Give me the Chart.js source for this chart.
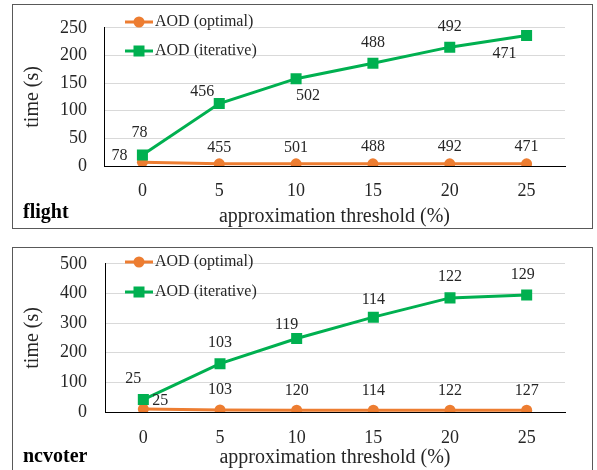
<!DOCTYPE html>
<html>
<head>
<meta charset="utf-8">
<script src="https://cdn.jsdelivr.net/npm/chart.js@4.4.1/dist/chart.umd.min.js"></script>
<style>
  html, body { margin: 0; padding: 0; background: #fff; overflow: hidden; }
  .panel { position: absolute; border: 1px solid #595959; box-sizing: border-box; }
  .wrap { position: absolute; left: 0; width: 597px; height: 235px; }
</style>
</head>
<body>
<div class="panel" style="left:12px;top:4px;width:581px;height:225px"></div>
<div class="panel" style="left:12px;top:247px;width:581px;height:240px"></div>
<div class="wrap" style="top:0"><canvas id="flightChart"></canvas></div>
<div class="wrap" style="top:235px"><canvas id="ncvoterChart"></canvas></div>

<script>
// ===== DATA =====
const thresholds = ["0", "5", "10", "15", "20", "25"];
const seriesNames = ["AOD (optimal)", "AOD (iterative)"];

const flightOptimal = [7, 4, 4, 4, 4, 4];
const flightIterative = [20, 113, 158, 186, 215, 236];
const flightOptimalNotes = ["78", "455", "501", "488", "492", "471"];
const flightIterativeNotes = ["78", "456", "502", "488", "492", "471"];
const flightTicks = [0, 50, 100, 150, 200, 250];

const ncvoterOptimal = [10, 7, 6, 6, 6, 6];
const ncvoterIterative = [42, 163, 248, 320, 385, 395];
const ncvoterOptimalNotes = ["25", "103", "120", "114", "122", "127"];
const ncvoterIterativeNotes = ["25", "103", "119", "114", "122", "129"];
const ncvoterTicks = [0, 100, 200, 300, 400, 500];

// ===== STYLE =====
const ORANGE = "#ed7d31";
const GREEN = "#00b050";
const SERIF = "'Liberation Serif', 'Times New Roman', serif";
const TEXT = "#262626";

/* draws the little number next to every point */
const notesPlugin = {
  id: "notes",
  afterDatasetsDraw(chart, args, opts) {
    const ctx = chart.ctx;
    ctx.save();
    ctx.font = "16px " + SERIF;
    ctx.fillStyle = TEXT;
    ctx.textAlign = "center";
    ctx.textBaseline = "middle";
    chart.data.datasets.forEach((ds, di) => {
      const meta = chart.getDatasetMeta(di);
      meta.data.forEach((pt, i) => {
        const off = opts.offsets[di][i];
        ctx.fillText(ds.notes[i], pt.x + off[0], pt.y + off[1]);
      });
    });
    ctx.restore();
  }
};

/* legend inside the plot + panel name */
const boxLegendPlugin = {
  id: "boxLegend",
  afterDraw(chart, args, opts) {
    const ctx = chart.ctx;
    ctx.save();
    chart.data.datasets.forEach((ds, di) => {
      const y = opts.rows[di];
      const x0 = opts.x;
      ctx.strokeStyle = ds.borderColor;
      ctx.lineWidth = 3;
      ctx.beginPath();
      ctx.moveTo(x0, y);
      ctx.lineTo(x0 + 28, y);
      ctx.stroke();
      ctx.fillStyle = ds.backgroundColor;
      if (ds.pointStyle === "rect") {
        ctx.fillRect(x0 + 14 - 5.5, y - 5.5, 11, 11);
      } else {
        ctx.beginPath();
        ctx.arc(x0 + 14, y, 5.5, 0, Math.PI * 2);
        ctx.fill();
      }
      ctx.fillStyle = TEXT;
      ctx.font = "16px " + SERIF;
      ctx.textAlign = "left";
      ctx.textBaseline = "middle";
      ctx.fillText(ds.label, x0 + 30, y);
    });
    ctx.font = "bold 20px " + SERIF;
    ctx.fillStyle = "#000";
    ctx.textAlign = "left";
    ctx.textBaseline = "middle";
    ctx.fillText(opts.name, 23, opts.nameY);
    ctx.restore();
  }
};

function makeChart(id, cfg) {
  const ticks = cfg.ticks;
  return new Chart(document.getElementById(id), {
    type: "line",
    data: {
      labels: thresholds,
      datasets: [
        {
          label: seriesNames[0],
          data: cfg.optimal,
          notes: cfg.optimalNotes,
          borderColor: ORANGE,
          backgroundColor: ORANGE,
          borderWidth: 3,
          pointStyle: "circle",
          pointRadius: 5.5,
          pointBorderWidth: 0,
          order: 1
        },
        {
          label: seriesNames[1],
          data: cfg.iterative,
          notes: cfg.iterativeNotes,
          borderColor: GREEN,
          backgroundColor: GREEN,
          borderWidth: 3,
          pointStyle: "rect",
          pointRadius: 7.8,
          pointBorderWidth: 0,
          order: 0
        }
      ]
    },
    options: {
      responsive: true,
      maintainAspectRatio: false,
      animation: false,
      layout: { padding: { left: 0, top: cfg.top, right: 32, bottom: 0 } },
      plugins: {
        legend: { display: false },
        tooltip: { enabled: false },
        notes: { offsets: cfg.offsets },
        boxLegend: { x: 125, rows: cfg.legendRows, name: cfg.name, nameY: cfg.nameY }
      },
      scales: {
        x: {
          offset: true,
          grid: { display: false, drawTicks: false },
          border: { color: "#000", width: 1 },
          ticks: { font: { family: SERIF, size: 18 }, color: TEXT, padding: cfg.xPad },
          title: {
            display: true,
            text: "approximation threshold (%)",
            font: { family: SERIF, size: 20 },
            color: TEXT,
            padding: { top: 0, bottom: cfg.titlePad }
          },
          afterFit(scale) { scale.height = cfg.xHeight; }
        },
        y: {
          min: ticks[0],
          max: ticks[ticks.length - 1],
          grid: { color: "#d9d9d9", lineWidth: 1, drawTicks: false },
          border: { color: "#000", width: 1 },
          ticks: { stepSize: ticks[1] - ticks[0], font: { family: SERIF, size: 18 }, color: TEXT, padding: cfg.yPad },
          title: {
            display: true,
            text: "time (s)",
            font: { family: SERIF, size: 20 },
            color: TEXT,
            padding: { top: 21, bottom: 0 }
          },
          afterFit(scale) { scale.width = cfg.yWidth; }
        }
      }
    },
    plugins: [notesPlugin, boxLegendPlugin]
  });
}

makeChart("flightChart", {
  optimal: flightOptimal,
  iterative: flightIterative,
  optimalNotes: flightOptimalNotes,
  iterativeNotes: flightIterativeNotes,
  ticks: flightTicks,
  top: 16,
  xHeight: 69,
  yWidth: 104,
  xPad: 14,
  yPad: 17,
  titlePad: 6,
  legendRows: [22, 51],
  name: "flight",
  nameY: 213,
  offsets: [
    [[-23, -6], [0, -16], [0, -16], [0, -17], [0, -17], [0, -17]],
    [[-3, -22], [-17, -12], [12, 17], [0, -20], [0, -20], [-22, 18]]
  ]
});

makeChart("ncvoterChart", {
  optimal: ncvoterOptimal,
  iterative: ncvoterIterative,
  optimalNotes: ncvoterOptimalNotes,
  iterativeNotes: ncvoterIterativeNotes,
  ticks: ncvoterTicks,
  top: 24,
  xHeight: 58,
  yWidth: 105,
  xPad: 15,
  yPad: 18,
  titlePad: 0,
  legendRows: [27, 57],
  name: "ncvoter",
  nameY: 222,
  offsets: [
    [[17, -8], [0, -20], [0, -19], [0, -19], [0, -19], [0, -19]],
    [[-10, -21], [0, -21], [-10, -14], [0, -17], [0, -21], [-4, -20]]
  ]
});
</script>
</body>
</html>
